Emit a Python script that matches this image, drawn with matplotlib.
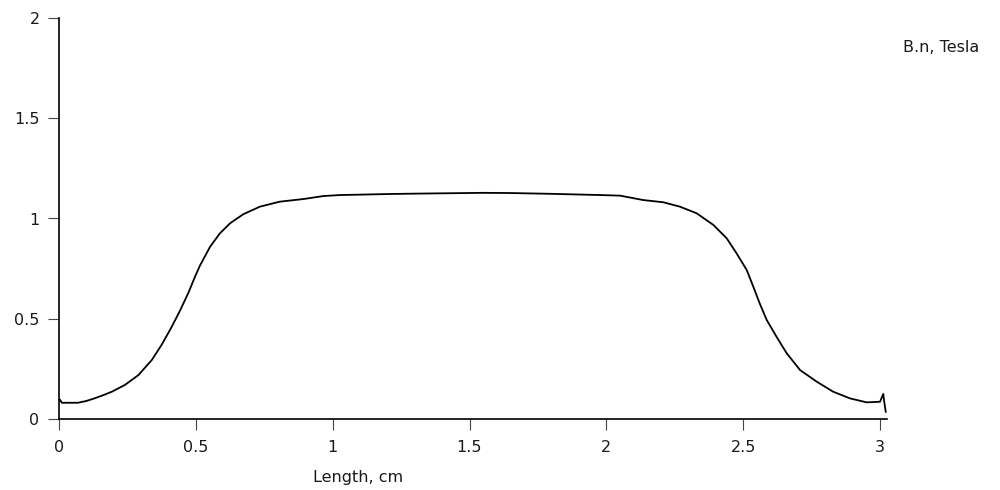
import matplotlib
matplotlib.use("Agg")
import matplotlib.pyplot as plt

# Data
length_cm = [0.0, 0.004, 0.01, 0.04, 0.07, 0.10, 0.13, 0.16, 0.193, 0.241, 0.29,
             0.339, 0.375, 0.41, 0.442, 0.473, 0.497, 0.515, 0.552, 0.588,
             0.625, 0.673, 0.734, 0.807, 0.893, 0.966, 1.027, 1.1, 1.2, 1.3,
             1.429, 1.55, 1.65, 1.8, 1.977, 2.05, 2.135, 2.208, 2.269, 2.33,
             2.391, 2.44, 2.476, 2.513, 2.537, 2.56, 2.586, 2.622, 2.659, 2.708,
             2.769, 2.829, 2.89, 2.951, 3.0, 3.012, 3.015, 3.021]
b_n_tesla = [0.10, 0.095, 0.081, 0.081, 0.081, 0.09, 0.103, 0.118, 0.136, 0.17, 0.219,
             0.294, 0.37, 0.455, 0.54, 0.63, 0.71, 0.765, 0.859, 0.926,
             0.976, 1.021, 1.059, 1.084, 1.097, 1.112, 1.117, 1.119, 1.122, 1.124,
             1.126, 1.128, 1.127, 1.123, 1.117, 1.114, 1.092, 1.081, 1.059, 1.026,
             0.968, 0.901, 0.826, 0.743, 0.66, 0.578, 0.494, 0.41, 0.328, 0.244,
             0.186, 0.136, 0.103, 0.083, 0.086, 0.125, 0.09, 0.036]

x_ticks = [0, 0.5, 1, 1.5, 2, 2.5, 3]
x_tick_labels = ["0", "0.5", "1", "1.5", "2", "2.5", "3"]
y_ticks = [0, 0.5, 1, 1.5, 2]
y_tick_labels = ["0", "0.5", "1", "1.5", "2"]

plt.rcParams['font.family'] = ['DejaVu Sans']

fig = plt.figure(figsize=(10, 4.9), dpi=100)
ax = fig.add_axes([0.059, (490 - 419) / 490, (887 - 59) / 1000, (419 - 18) / 490])

ax.plot(length_cm, b_n_tesla, color="black", lw=1.3)

x0_px, x3_px = 59, 880
scale = (x3_px - x0_px) / 3.0
ax.set_xlim(0, (887 - x0_px) / scale)
ax.set_ylim(0, 2)

ax.set_xticks(x_ticks)
ax.set_xticklabels(x_tick_labels)
ax.set_yticks(y_ticks)
ax.set_yticklabels(y_tick_labels)

for s in ["top", "right"]:
    ax.spines[s].set_visible(False)
for s in ["left", "bottom"]:
    ax.spines[s].set_linewidth(1.2)
    ax.spines[s].set_color("black")

ax.tick_params(axis="both", direction="out", length=8, width=0.8,
               color="#444444", labelsize=11.5, labelcolor="#1a1a1a")
ax.tick_params(axis="x", pad=7)
ax.tick_params(axis="y", pad=6)

fig.text(358 / 1000, 1 - 477 / 490, "Length, cm", ha="center", va="center",
         fontsize=11.5, color="#1a1a1a")
fig.text(903 / 1000, 1 - 47 / 490, "B.n, Tesla", ha="left", va="center",
         fontsize=11.5, color="#1a1a1a")

fig.savefig("out.png", dpi=100, facecolor="white")
